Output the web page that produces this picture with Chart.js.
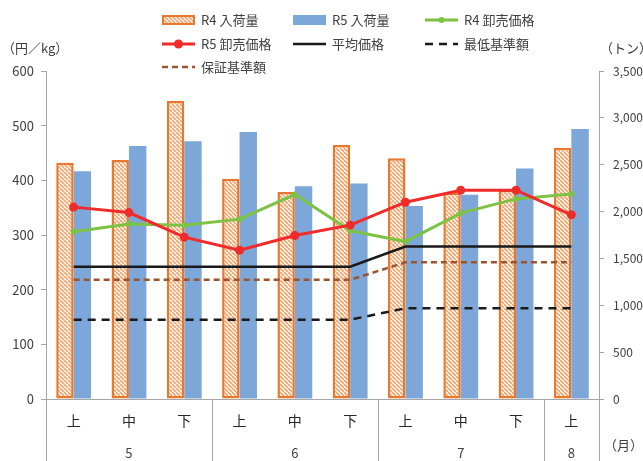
<!DOCTYPE html>
<html>
<head>
<meta charset="utf-8">
<script src="https://cdn.jsdelivr.net/npm/chart.js@4.4.1/dist/chart.umd.min.js"></script>
<style>
html,body{margin:0;padding:0;background:#fff;}
#wrap{width:643px;height:461px;position:relative;}
</style>
</head>
<body>
<div id="wrap"><canvas id="c" width="643" height="461"></canvas></div>
<script>
// ---- data ----
const categories = ['上','中','下','上','中','下','上','中','下','上'];
const months = ['5','6','7','8'];
const monthSpans = [3,3,3,1];
const r4Volume = [2520, 2550, 3180, 2350, 2210, 2710, 2570, 2200, 2230, 2680];
const r5Volume = [2430, 2700, 2750, 2850, 2270, 2300, 2060, 2180, 2460, 2880];
const r4Price = [306, 320, 318, 329, 374, 308, 288, 340, 366, 375];
const r5Price = [351, 341, 296, 272, 299, 318, 360, 382, 382, 337];
const avgPrice = [242, 242, 242, 242, 242, 242, 279, 279, 279, 279];
const minPrice = [145, 145, 145, 145, 145, 145, 166, 166, 166, 166];
const guaranteePrice = [218, 218, 218, 218, 218, 218, 250, 250, 250, 250];
const priceMax = 600, priceStep = 100;
const volumeMax = 3500, volumeStep = 500;

const FONT = '"Noto Sans CJK JP", "Noto Sans", sans-serif';
const AXIS = '#a6a6a6';
const ORANGE = '#E8782E';
const BLUE = '#7DA7D8';

function hatch() {
  const s = 4;
  const c = document.createElement('canvas');
  c.width = s; c.height = s;
  const g = c.getContext('2d');
  g.fillStyle = '#fff'; g.fillRect(0,0,s,s);
  g.strokeStyle = '#F3A46C'; g.lineWidth = 1.6;
  for (let k = -1; k <= 1; k++) {
    g.beginPath(); g.moveTo(k*s, 0); g.lineTo(k*s + s, s); g.stroke();
  }
  return g.createPattern(c, 'repeat');
}
const hatchPattern = hatch();

const legendPlugin = {
  id: 'gridLegend',
  afterDraw(chart) {
    const ctx = chart.ctx;
    const cols = [162, 293, 425], rows = [20, 44, 67];
    chart.data.datasets.forEach((ds, i) => {
      const x = cols[i % 3], y = rows[Math.floor(i / 3)];
      ctx.save();
      if (ds.type === 'bar') {
        ctx.fillStyle = ds.backgroundColor;
        ctx.fillRect(x, y - 5, 33, 10);
        if (ds.borderWidth) {
          ctx.lineWidth = 2; ctx.strokeStyle = ds.borderColor;
          ctx.strokeRect(x + 1, y - 4, 31, 8);
        }
      } else {
        ctx.strokeStyle = ds.borderColor; ctx.lineWidth = ds.borderWidth;
        ctx.setLineDash(ds.borderDash || []);
        ctx.beginPath(); ctx.moveTo(x, y); ctx.lineTo(x + 33, y); ctx.stroke();
        if (ds.pointRadius) {
          ctx.setLineDash([]); ctx.fillStyle = ds.borderColor;
          ctx.beginPath(); ctx.arc(x + 16.5, y, ds.pointRadius, 0, Math.PI * 2); ctx.fill();
        }
      }
      ctx.fillStyle = '#404040'; ctx.font = '13px ' + FONT;
      ctx.textBaseline = 'middle'; ctx.textAlign = 'left';
      ctx.fillText(ds.label, x + 39, y);
      ctx.restore();
    });
  }
};

const decoPlugin = {
  id: 'deco',
  afterDraw(chart) {
    const ctx = chart.ctx;
    const a = chart.chartArea;
    const xs = chart.scales.x;
    const H = chart.height;
    ctx.save();
    ctx.strokeStyle = AXIS; ctx.lineWidth = 1;
    [a.left, a.right].forEach(px => {
      ctx.beginPath(); ctx.moveTo(Math.round(px) + 0.5, a.bottom); ctx.lineTo(Math.round(px) + 0.5, H); ctx.stroke();
    });
    let idx = 0;
    ctx.fillStyle = '#404040'; ctx.font = '13px ' + FONT;
    ctx.textAlign = 'center'; ctx.textBaseline = 'middle';
    months.forEach((m, k) => {
      const first = idx, last = idx + monthSpans[k] - 1;
      const cx = (xs.getPixelForValue(first) + xs.getPixelForValue(last)) / 2;
      ctx.fillText(m, cx, 453);
      idx += monthSpans[k];
      if (idx < categories.length) {
        const bx = (xs.getPixelForValue(idx - 1) + xs.getPixelForValue(idx)) / 2;
        ctx.beginPath(); ctx.moveTo(Math.round(bx) + 0.5, a.bottom); ctx.lineTo(Math.round(bx) + 0.5, H); ctx.stroke();
      }
    });
    ctx.fillStyle = '#404040'; ctx.font = '13px ' + FONT;
    ctx.textAlign = 'left';
    ctx.fillText('（円／kg）', 2, 48);
    ctx.fillText('（トン）', 600, 48);
    ctx.fillText('（月）', 604, 445);
    ctx.restore();
  }
};

new Chart(document.getElementById('c'), {
  data: {
    labels: categories,
    datasets: [
      { type: 'bar', label: 'R4 入荷量', data: r4Volume, yAxisID: 'y1', order: 9,
        backgroundColor: hatchPattern, borderColor: ORANGE, borderWidth: 2.5, borderSkipped: false,
        categoryPercentage: 0.63, barPercentage: 1.0 },
      { type: 'bar', label: 'R5 入荷量', data: r5Volume, yAxisID: 'y1', order: 10,
        backgroundColor: BLUE, borderWidth: 0,
        categoryPercentage: 0.63, barPercentage: 1.0 },
      { type: 'line', label: 'R4 卸売価格', data: r4Price, yAxisID: 'y', order: 2,
        borderColor: '#7DC243', backgroundColor: '#7DC243', borderWidth: 3,
        pointRadius: 3, pointHoverRadius: 3, pointBorderWidth: 0, tension: 0 },
      { type: 'line', label: 'R5 卸売価格', data: r5Price, yAxisID: 'y', order: 1,
        borderColor: '#F02B2B', backgroundColor: '#F02B2B', borderWidth: 3,
        pointRadius: 4.5, pointHoverRadius: 4.5, pointBorderWidth: 0, tension: 0 },
      { type: 'line', label: '平均価格', data: avgPrice, yAxisID: 'y', order: 3,
        borderColor: '#1a1a1a', borderWidth: 2.5, pointRadius: 0, tension: 0 },
      { type: 'line', label: '最低基準額', data: minPrice, yAxisID: 'y', order: 3,
        borderColor: '#1a1a1a', borderWidth: 2.5, borderDash: [8, 6], pointRadius: 0, tension: 0 },
      { type: 'line', label: '保証基準額', data: guaranteePrice, yAxisID: 'y', order: 3,
        borderColor: '#9A5530', borderWidth: 2.5, borderDash: [6, 4], pointRadius: 0, tension: 0 }
    ]
  },
  options: {
    responsive: false,
    animation: false,
    layout: { padding: { top: 71, left: 0, right: 0, bottom: 0 } },
    plugins: { legend: { display: false }, tooltip: { enabled: false }, title: { display: false } },
    scales: {
      x: {
        offset: true,
        grid: { display: false, drawTicks: false },
        border: { color: AXIS },
        ticks: { color: '#262626', font: { family: FONT, size: 14 }, padding: 13, maxRotation: 0, autoSkip: false },
        afterFit: s => { s.height = 62; }
      },
      y: {
        position: 'left', min: 0, max: priceMax,
        ticks: { stepSize: priceStep, color: '#404040', font: { family: FONT, size: 13 }, padding: 7 },
        grid: { drawOnChartArea: false, tickLength: 5, color: AXIS },
        border: { color: AXIS },
        afterFit: s => { s.width = 46; }
      },
      y1: {
        position: 'right', min: 0, max: volumeMax,
        ticks: { stepSize: volumeStep, color: '#404040', font: { family: FONT, size: 12 }, padding: 9,
          callback: v => v.toLocaleString('en-US') },
        grid: { drawOnChartArea: false, tickLength: 5, color: AXIS },
        border: { color: AXIS },
        afterFit: s => { s.width = 44; }
      }
    }
  },
  plugins: [legendPlugin, decoPlugin]
});
</script>
</body>
</html>
